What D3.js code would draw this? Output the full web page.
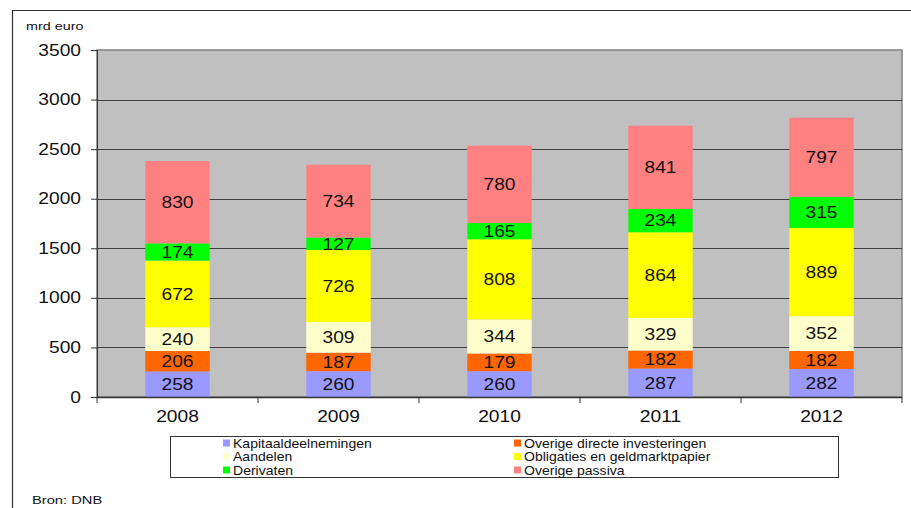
<!DOCTYPE html>
<html>
<head>
<meta charset="utf-8">
<script src="https://cdn.jsdelivr.net/npm/d3@7"></script>
<style>
  body { margin: 0; background: #fff; }
  svg { display: block; font-family: "Liberation Sans", Arial, sans-serif; }
</style>
</head>
<body>
<div id="chart"></div>
<script>
const years = ['2008', '2009', '2010', '2011', '2012'];
const seriesNames = [
  'Kapitaaldeelnemingen',
  'Overige directe investeringen',
  'Aandelen',
  'Obligaties en geldmarktpapier',
  'Derivaten',
  'Overige passiva'
];
const kapitaal = [258, 260, 260, 287, 282];
const overigeDirect = [206, 187, 179, 182, 182];
const aandelen = [240, 309, 344, 329, 352];
const obligaties = [672, 726, 808, 864, 889];
const derivaten = [174, 127, 165, 234, 315];
const overigePassiva = [830, 734, 780, 841, 797];
const yTicks = [0, 500, 1000, 1500, 2000, 2500, 3000, 3500];
const colors = ['#9999FF', '#FF6600', '#FFFFCC', '#FFFF00', '#00FF00', '#FF8080'];

const seriesValues = [kapitaal, overigeDirect, aandelen, obligaties, derivaten, overigePassiva];

const W = 911, H = 508;
const plot = { left: 97, right: 902, top: 50, bottom: 397 };
const SX = 1.2; // the original text is drawn a bit wider than normal

const svg = d3.select('#chart').append('svg')
  .attr('width', W)
  .attr('height', H);

// place a text at (x, y) stretched horizontally by sx
function place(sel, fx, fy, sx) {
  sel.attr('x', 0).attr('y', 0)
    .attr('transform', (d, i) => `translate(${fx(d, i)},${fy(d, i)}) scale(${sx},1)`);
}

// outer frame (top and left edges visible)
svg.append('line').attr('x1', 12).attr('x2', W).attr('y1', 10.5).attr('y2', 10.5)
  .attr('stroke', '#333').attr('stroke-width', 1.2);
svg.append('line').attr('x1', 12.5).attr('x2', 12.5).attr('y1', 10).attr('y2', H)
  .attr('stroke', '#333').attr('stroke-width', 1.2);

const x = d3.scaleBand()
  .domain(years)
  .range([plot.left, plot.right])
  .paddingInner(0.6)
  .paddingOuter(0.3);

const y = d3.scaleLinear()
  .domain([0, 3500])
  .range([plot.bottom, plot.top]);

// plot background
svg.append('rect')
  .attr('x', plot.left).attr('y', plot.top)
  .attr('width', plot.right - plot.left).attr('height', plot.bottom - plot.top)
  .attr('fill', '#C0C0C0')
  .attr('stroke', '#808080').attr('stroke-width', 1.5);

// gridlines
svg.append('g').selectAll('line')
  .data(yTicks.filter(d => d > 0 && d < 3500))
  .join('line')
  .attr('x1', plot.left).attr('x2', plot.right)
  .attr('y1', d => Math.round(y(d)) + 0.5).attr('y2', d => Math.round(y(d)) + 0.5)
  .attr('stroke', '#404040').attr('stroke-width', 1);

// stacked bars
const rows = years.map((yr, i) => {
  const r = { year: yr };
  seriesNames.forEach((s, j) => { r[s] = seriesValues[j][i]; });
  return r;
});
const stacked = d3.stack().keys(seriesNames)(rows);

const layers = svg.append('g').selectAll('g')
  .data(stacked)
  .join('g')
  .attr('fill', (d, i) => colors[i]);

layers.selectAll('rect')
  .data(d => d)
  .join('rect')
  .attr('x', d => x(d.data.year))
  .attr('y', d => y(d[1]))
  .attr('width', x.bandwidth())
  .attr('height', d => y(d[0]) - y(d[1]));

layers.selectAll('text')
  .data(d => d)
  .join('text')
  .call(place, d => x(d.data.year) + x.bandwidth() / 2, d => (y(d[0]) + y(d[1])) / 2, SX)
  .attr('dy', '0.36em')
  .attr('text-anchor', 'middle')
  .attr('fill', '#111')
  .attr('font-size', 16)
  .text(d => d[1] - d[0]);

// y axis
const yAxis = svg.append('g')
  .attr('transform', `translate(${plot.left},0)`)
  .call(d3.axisLeft(y).tickValues(yTicks).tickSize(6).tickPadding(9).tickFormat(d3.format('d')));
yAxis.select('.domain').attr('stroke', '#333');
yAxis.selectAll('.tick line').attr('stroke', '#333');
yAxis.selectAll('text')
  .attr('x', -16 / SX)
  .attr('transform', `scale(${SX},1)`)
  .attr('font-size', 16).attr('fill', '#111')
  .attr('font-family', '"Liberation Sans", Arial, sans-serif');

// x axis with ticks at category boundaries
const xAxisG = svg.append('g').attr('transform', `translate(0,${plot.bottom})`);
xAxisG.append('line')
  .attr('x1', plot.left).attr('x2', plot.right)
  .attr('y1', 0.5).attr('y2', 0.5)
  .attr('stroke', '#333').attr('stroke-width', 1.5);
const boundaries = d3.range(years.length + 1).map(i => plot.left + i * (plot.right - plot.left) / years.length);
xAxisG.selectAll('line.b')
  .data(boundaries)
  .join('line')
  .attr('class', 'b')
  .attr('x1', d => d).attr('x2', d => d)
  .attr('y1', 0).attr('y2', 6)
  .attr('stroke', '#333');
xAxisG.selectAll('text')
  .data(years)
  .join('text')
  .call(place, d => x(d) + x.bandwidth() / 2, () => 25, SX)
  .attr('text-anchor', 'middle')
  .attr('font-size', 16)
  .attr('fill', '#111')
  .text(d => d);

// unit label
svg.append('text')
  .attr('transform', 'translate(26,30) scale(1.25,1)')
  .attr('font-size', 11.5).attr('fill', '#111')
  .text('mrd euro');

// legend
const legend = svg.append('g');
legend.append('rect')
  .attr('x', 170.5).attr('y', 436.5)
  .attr('width', 668).attr('height', 41)
  .attr('fill', '#fff').attr('stroke', '#333').attr('stroke-width', 1);
const legendPos = [
  [223, 443], [514, 443],
  [223, 456.5], [514, 456.5],
  [223, 470], [514, 470]
];
const items = legend.selectAll('g.item')
  .data(seriesNames)
  .join('g')
  .attr('class', 'item')
  .attr('transform', (d, i) => `translate(${legendPos[i][0]},${legendPos[i][1]})`);
items.append('rect')
  .attr('x', 0).attr('y', -3.5)
  .attr('width', 7).attr('height', 7)
  .attr('fill', (d, i) => colors[i]);
items.append('text')
  .attr('transform', 'translate(10,0) scale(1.08,1)')
  .attr('dy', '0.36em')
  .attr('font-size', 13).attr('fill', '#111')
  .text(d => d);

// source
svg.append('text')
  .attr('transform', 'translate(32,504) scale(1.28,1)')
  .attr('font-size', 11.5).attr('fill', '#111')
  .text('Bron: DNB');
</script>
</body>
</html>
